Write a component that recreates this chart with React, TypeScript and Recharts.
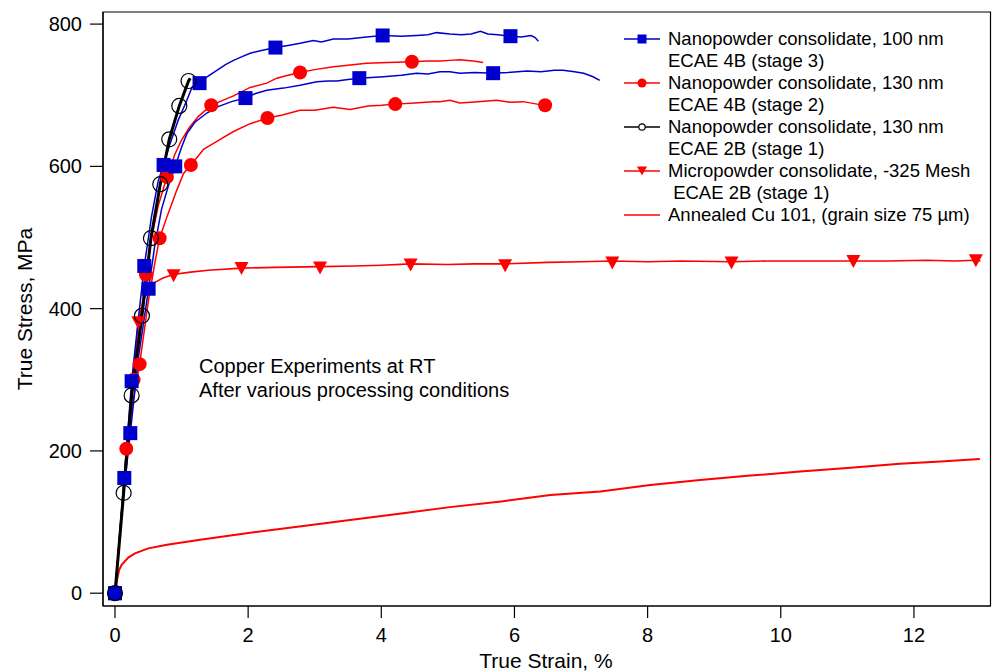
import { ComposedChart, Line, Scatter, XAxis, YAxis, Label, ReferenceArea } from "recharts";

const FONT = "'Liberation Sans', Arial, Helvetica, sans-serif";
const BLUE = "#0000cc";
const RED = "#ff0000";

// axis setup
const xTicks = [0, 2, 4, 6, 8, 10, 12];
const yTicks = [0, 200, 400, 600, 800];
const xDomain = [-0.18, 13.15];
const yDomain = [-18, 817];

// Nanopowder 100 nm, ECAE 4B (stage 3) - two tests
const stage3A = [
  [0, 0], [0.07, 80], [0.14, 162], [0.25, 298], [0.35, 385], [0.44, 460], [0.55, 530], [0.65, 580],
  [0.73, 602], [0.82, 630], [0.95, 665], [1.08, 693], [1.16, 712], [1.27, 717], [1.4, 727], [1.53, 735],
  [1.66, 743], [1.78, 749], [1.9, 754], [2.03, 759], [2.2, 763], [2.41, 767], [2.6, 770], [2.78, 773],
  [2.98, 777], [3.1, 775], [3.28, 779], [3.5, 779], [3.78, 782], [4.02, 784], [4.3, 783], [4.53, 784],
  [4.7, 785], [4.83, 788], [5.03, 786], [5.2, 785], [5.35, 786], [5.49, 790], [5.6, 786], [5.75, 785],
  [5.94, 783], [6.1, 782], [6.25, 784], [6.31, 781], [6.36, 776],
];
const stage3AMarks = [
  [0, 0], [0.14, 162], [0.25, 298], [0.44, 460], [0.73, 602], [1.27, 717], [2.41, 767], [4.02, 784], [5.94, 783],
];
const stage3B = [
  [0, 0], [0.1, 115], [0.23, 225], [0.35, 330], [0.505, 428], [0.6, 490], [0.7, 540], [0.8, 572],
  [0.905, 600], [1.0, 627], [1.08, 646], [1.2, 662], [1.38, 675], [1.55, 684], [1.75, 691], [1.96, 696],
  [2.1, 702], [2.28, 707], [2.53, 710], [2.78, 714], [3.03, 719], [3.2, 720], [3.33, 720], [3.5, 722],
  [3.67, 724], [4.03, 726], [4.3, 728], [4.53, 731], [4.7, 730], [4.88, 733], [5.03, 733], [5.18, 731],
  [5.4, 732], [5.68, 731], [5.9, 732], [6.19, 734], [6.4, 733], [6.6, 735], [6.73, 735], [6.9, 733],
  [7.04, 731], [7.18, 726], [7.28, 721],
];
const stage3BMarks = [
  [0, 0], [0.23, 225], [0.505, 428], [0.905, 600], [1.96, 696], [3.67, 724], [5.68, 731],
];

// Nanopowder 130 nm, ECAE 4B (stage 2) - two tests
const stage2A = [
  [0, 0], [0.1, 110], [0.2, 220], [0.28, 300], [0.38, 385], [0.465, 448], [0.55, 500], [0.65, 545],
  [0.78, 585], [0.9, 617], [1.0, 637], [1.12, 655], [1.25, 670], [1.446, 686], [1.6, 692], [1.78, 699],
  [2.03, 711], [2.28, 717], [2.43, 724], [2.6, 728], [2.78, 732], [3.0, 736], [3.28, 740], [3.5, 742],
  [3.78, 745], [4.1, 746], [4.46, 747], [4.7, 748], [4.88, 748], [5.03, 749], [5.18, 750], [5.38, 748],
  [5.53, 746],
];
const stage2AMarks = [
  [0, 0], [0.28, 300], [0.465, 448], [0.78, 585], [1.446, 686], [2.78, 732], [4.46, 747],
];
const stage2B = [
  [0, 0], [0.08, 95], [0.17, 203], [0.27, 270], [0.37, 322], [0.5, 410], [0.6, 465], [0.67, 499],
  [0.78, 529], [0.93, 567], [1.03, 590], [1.14, 602], [1.28, 618], [1.33, 624], [1.53, 635], [1.78, 649],
  [2.03, 660], [2.29, 668], [2.5, 672], [2.78, 679], [3.0, 679], [3.28, 683], [3.53, 680], [3.8, 685],
  [4.0, 686], [4.21, 687.5], [4.5, 689], [4.78, 691], [4.88, 691], [5.03, 693], [5.18, 689], [5.45, 691],
  [5.73, 693], [5.95, 690], [6.13, 691], [6.34, 687.5], [6.46, 686],
];
const stage2BMarks = [
  [0, 0], [0.17, 203], [0.37, 322], [0.67, 499], [1.14, 602], [2.29, 668], [4.21, 687.5], [6.46, 686],
];

// Nanopowder 130 nm, ECAE 2B (stage 1)
const stage1Nano = [
  [0, 0], [0.13, 141], [0.25, 278], [0.405, 390], [0.54, 499], [0.68, 575], [0.815, 638], [0.966, 685],
  [1.105, 720], [1.13, 724],
];
const stage1NanoMarks = [
  [0, 0], [0.13, 141], [0.25, 278], [0.405, 390], [0.54, 499], [0.68, 575], [0.815, 638], [0.966, 685], [1.105, 720],
];

// Micropowder -325 mesh, ECAE 2B (stage 1)
const stage1Micro = [
  [0, 0], [0.15, 165], [0.3, 330], [0.35, 381], [0.42, 410], [0.5, 428], [0.6, 437], [0.72, 443],
  [0.88, 448], [1.1, 451], [1.4, 454], [1.9, 457], [2.4, 458], [3.08, 459], [3.6, 460], [4.0, 461],
  [4.44, 463], [5.0, 462], [5.4, 463], [5.86, 463], [6.5, 465], [7.0, 466], [7.47, 467], [8.0, 466],
  [8.5, 467], [9.26, 466], [9.8, 467], [10.4, 467], [11.09, 467], [11.6, 467], [12.2, 468], [12.6, 467],
  [12.93, 468], [13.0, 467],
];
const stage1MicroMarks = [
  [0, 0], [0.35, 381], [0.88, 447], [1.9, 457], [3.08, 458], [4.44, 462], [5.86, 461], [7.47, 465],
  [9.26, 465], [11.09, 467], [12.93, 468],
];

// Annealed Cu 101
const annealed = [
  [0, 0], [0.03, 18], [0.06, 32], [0.1, 40], [0.2, 50], [0.3, 56], [0.5, 63], [0.78, 68], [1.28, 75],
  [2.03, 85], [2.8, 94], [3.53, 103], [4.3, 112], [5.03, 121], [5.8, 129], [6.54, 138], [7.29, 143],
  [8.04, 152], [8.79, 159], [9.5, 165], [10.29, 171], [11.0, 176], [11.79, 182], [12.4, 185], [12.99, 188.5],
];

const legendRows = [
  ["Nanopowder consolidate, 100 nm", "ECAE 4B (stage 3)"],
  ["Nanopowder consolidate, 130 nm", "ECAE 4B (stage 2)"],
  ["Nanopowder consolidate, 130 nm", "ECAE 2B (stage 1)"],
  ["Micropowder consolidate, -325 Mesh", " ECAE 2B (stage 1)"],
  ["Annealed Cu 101, (grain size 75 µm)"],
];
const legendKinds = ["square", "circle", "open", "triangle", "none"];
const legendColors = [BLUE, RED, "#000", RED, RED];

const pts = (a: number[][]) => a.map(([x, y]) => ({ x, y }));

const Square = (p: any) => <rect x={p.cx - 7} y={p.cy - 7} width={14} height={14} fill={BLUE} />;
const Dot = (p: any) => <circle cx={p.cx} cy={p.cy} r={7} fill={RED} />;
const Ring = (p: any) => <circle cx={p.cx} cy={p.cy} r={7.5} fill="none" stroke="#000" strokeWidth={1.2} />;
const Tri = (p: any) => (
  <polygon points={`${p.cx - 7},${p.cy - 6} ${p.cx + 7},${p.cy - 6} ${p.cx},${p.cy + 7}`} fill={RED} />
);

function LegendIcon({ kind, color }: { kind: string; color: string }) {
  return (
    <svg width={48} height={22} style={{ display: "block" }}>
      <line x1={4} x2={40} y1={11} y2={11} stroke={color} strokeWidth={1.5} />
      {kind === "square" && <rect x={17.5} y={6.5} width={9} height={9} fill={color} />}
      {kind === "circle" && <circle cx={22} cy={11} r={4.5} fill={color} />}
      {kind === "open" && <circle cx={22} cy={11} r={3.2} fill="#fff" stroke={color} strokeWidth={1.2} />}
      {kind === "triangle" && <polygon points="17,6.5 27,6.5 22,15.5" fill={color} />}
    </svg>
  );
}

const tickStyle = { fontFamily: FONT, fontSize: 20, fill: "#000" };

export default function App() {
  return (
    <div style={{ position: "absolute", left: 0, top: 0, width: 993, height: 672, background: "#fff", overflow: "hidden" }}>
      <ComposedChart width={993} height={672} margin={{ top: 12, right: 2.5, bottom: 0, left: 0 }}>
        <XAxis
          type="number"
          dataKey="x"
          domain={xDomain}
          ticks={xTicks}
          allowDataOverflow
          height={66}
          tickSize={12}
          tickMargin={10}
          tick={tickStyle}
          stroke="#000"
          strokeWidth={1.2}
        >
          <Label
            content={() => (
              <text x={546} y={668} textAnchor="middle" fontFamily={FONT} fontSize={21} fill="#000">
                True Strain, %
              </text>
            )}
          />
        </XAxis>
        <YAxis
          type="number"
          dataKey="y"
          domain={yDomain}
          ticks={yTicks}
          allowDataOverflow
          width={103}
          tickSize={13}
          tickMargin={8}
          tick={tickStyle}
          stroke="#000"
          strokeWidth={1.2}
        >
          <Label
            content={() => (
              <text x={32} y={309} transform="rotate(-90, 32, 309)" textAnchor="middle" fontFamily={FONT} fontSize={21} fill="#000">
                True Stress, MPa
              </text>
            )}
          />
        </YAxis>
        <ReferenceArea x1={xDomain[0]} x2={xDomain[1]} y1={yDomain[0]} y2={yDomain[1]} fill="none" stroke="#000" strokeWidth={1.2} ifOverflow="visible" />

        <Line data={pts(annealed)} dataKey="y" type="linear" dot={false} stroke={RED} strokeWidth={2} isAnimationActive={false} />
        <Line data={pts(stage1Micro)} dataKey="y" type="linear" dot={false} stroke={RED} strokeWidth={1.6} isAnimationActive={false} />
        <Line data={pts(stage2B)} dataKey="y" type="linear" dot={false} stroke={RED} strokeWidth={1.5} isAnimationActive={false} />
        <Line data={pts(stage2A)} dataKey="y" type="linear" dot={false} stroke={RED} strokeWidth={1.5} isAnimationActive={false} />
        <Line data={pts(stage3B)} dataKey="y" type="linear" dot={false} stroke={BLUE} strokeWidth={1.5} isAnimationActive={false} />
        <Line data={pts(stage3A)} dataKey="y" type="linear" dot={false} stroke={BLUE} strokeWidth={1.5} isAnimationActive={false} />

        <Scatter data={pts(stage1MicroMarks)} dataKey="y" shape={Tri} isAnimationActive={false} />
        <Scatter data={pts(stage2BMarks)} dataKey="y" shape={Dot} isAnimationActive={false} />
        <Scatter data={pts(stage2AMarks)} dataKey="y" shape={Dot} isAnimationActive={false} />
        <Scatter data={pts(stage3BMarks)} dataKey="y" shape={Square} isAnimationActive={false} />
        <Scatter data={pts(stage3AMarks)} dataKey="y" shape={Square} isAnimationActive={false} />

        <Line data={pts(stage1Nano)} dataKey="y" type="linear" dot={false} stroke="#000" strokeWidth={3} isAnimationActive={false} />
        <Scatter data={pts(stage1NanoMarks)} dataKey="y" shape={Ring} isAnimationActive={false} />
      </ComposedChart>

      <div style={{ position: "absolute", left: 620, top: 27.5, fontFamily: FONT, fontSize: 18.5, lineHeight: "22.1px", color: "#000" }}>
        {legendRows.map((lines, i) => (
          <div key={i} style={{ display: "flex", alignItems: "flex-start" }}>
            <LegendIcon kind={legendKinds[i]} color={legendColors[i]} />
            <div style={{ whiteSpace: "pre" }}>
              {lines.map((t, j) => (
                <div key={j}>{t}</div>
              ))}
            </div>
          </div>
        ))}
      </div>

      <div style={{ position: "absolute", left: 199, top: 355, fontFamily: FONT, fontSize: 20, lineHeight: "23.5px", color: "#000" }}>
        <div>Copper Experiments at RT</div>
        <div>After various processing conditions</div>
      </div>
    </div>
  );
}
